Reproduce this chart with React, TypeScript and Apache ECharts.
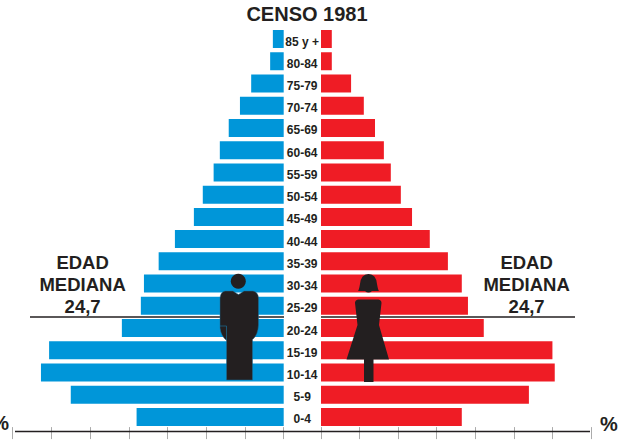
import React, { useEffect, useRef } from "react";
import * as echarts from "echarts";

const ageGroups = ["0-4","5-9","10-14","15-19","20-24","25-29","30-34","35-39","40-44","45-49","50-54","55-59","60-64","65-69","70-74","75-79","80-84","85 y +"];
const menPct = [3.8,5.5,6.27,6.06,4.18,3.69,3.61,3.23,2.81,2.32,2.09,1.81,1.65,1.42,1.13,0.84,0.35,0.28];
const womenPct = [3.65,5.39,6.06,6.0,4.22,3.81,3.65,3.29,2.82,2.36,2.07,1.81,1.63,1.40,1.11,0.78,0.28,0.28];
const titleText = "CENSO 1981";
const medianLines = ["EDAD", "MEDIANA", "24,7"];
const medianCentres = [262, 284.5, 306.5];

const BLUE = "#0096D9";
const RED = "#EF1C25";
const DARK = "#231F20";
const FONT = '"Liberation Sans", Arial, sans-serif';

echarts.graphic.registerShape("manBody", echarts.graphic.extendPath(
  "M225 291 L233 291 Q236 293 238.5 294.5 Q241 293 244 291 L253 291 Q258 292 258.5 298 L258.5 325 Q258 335 252.5 339.5 L252.5 380 L226.5 380 L226.5 340.5 Q221 336 220 328 L220 298 Q220.5 292 225 291 Z", {}));
echarts.graphic.registerShape("womanHair", echarts.graphic.extendPath(
  "M358 291 Q359 290 360 284 Q361 274 368.5 274 Q376 274 377 284 Q378 290 379 291 L372 291 Q368.5 294 365 291 Z", {}));
echarts.graphic.registerShape("womanBody", echarts.graphic.extendPath(
  "M358 299.5 L378.5 299.5 Q381.5 300 381.5 303 L379 325 L389 359.5 L373.5 359.5 L373.5 382 L364 382 L364 359.5 L346.5 359.5 L357.5 325 L355 303 Q355 300 358 299.5 Z", {}));

const medianTexts = (cx: number) => medianLines.map((t, i) => ({
  type: "text", z: 10, x: cx, y: medianCentres[i],
  style: { text: t, fill: DARK, font: `bold 18.5px ${FONT}`, align: "center", verticalAlign: "middle" },
}));

const xCommon = {
  type: "value", min: 0, max: 7, interval: 1, offset: -1,
  axisLabel: { show: false }, axisLine: { show: false }, splitLine: { show: false },
  axisTick: { show: true, length: 12, lineStyle: { color: "#ABABAB", width: 1 } },
};
const yCommon = {
  type: "category", data: ageGroups,
  axisLine: { show: false }, axisTick: { show: false }, splitLine: { show: false },
};

export default function App() {
  const ref = useRef<HTMLDivElement>(null);
  useEffect(() => {
    const chart = echarts.init(ref.current!, null, { renderer: "svg" });
    chart.setOption({
      animation: false,
      backgroundColor: "#fff",
      grid: [
        { left: 12.7, width: 271, top: 27.9, height: 400.2 },
        { left: 321, width: 270, top: 27.9, height: 400.2 },
      ],
      xAxis: [
        { ...xCommon, gridIndex: 0, inverse: true },
        { ...xCommon, gridIndex: 1 },
      ],
      yAxis: [
        {
          ...yCommon, gridIndex: 0, position: "right",
          axisLine: { show: false, onZero: false },
          axisLabel: {
            show: true, margin: 18.5, align: "center", interval: 0, verticalAlign: "top", lineHeight: 5,
            color: DARK, fontFamily: FONT, fontWeight: "bold", fontSize: 12,
          },
        },
        { ...yCommon, gridIndex: 1, axisLabel: { show: false } },
      ],
      series: [
        { type: "bar", xAxisIndex: 0, yAxisIndex: 0, data: menPct, barWidth: 18, itemStyle: { color: BLUE } },
        { type: "bar", xAxisIndex: 1, yAxisIndex: 1, data: womenPct, barWidth: 18, itemStyle: { color: RED } },
      ],
      graphic: [
        { type: "text", z: 10, x: 307, y: 14, style: { text: titleText, fill: DARK, font: `bold 20px ${FONT}`, align: "center", verticalAlign: "middle" } },
        ...medianTexts(82.6),
        ...medianTexts(526.6),
        { type: "line", z: 10, shape: { x1: 30, y1: 317, x2: 284, y2: 317 }, style: { stroke: DARK, lineWidth: 1.3 } },
        { type: "line", z: 10, shape: { x1: 321, y1: 317, x2: 575, y2: 317 }, style: { stroke: DARK, lineWidth: 1.3 } },
        { type: "line", z: 10, shape: { x1: 15, y1: 431.5, x2: 590, y2: 431.5 }, style: { stroke: DARK, lineWidth: 1.6 } },
        { type: "text", z: 10, x: 9, y: 423, style: { text: "%", fill: DARK, font: `bold 20px ${FONT}`, align: "right", verticalAlign: "middle" } },
        { type: "text", z: 10, x: 600, y: 424, style: { text: "%", fill: DARK, font: `bold 20px ${FONT}`, align: "left", verticalAlign: "middle" } },
        { type: "circle", z: 11, shape: { cx: 238.3, cy: 281.3, r: 7.5 }, style: { fill: DARK } },
        { type: "manBody", z: 11, style: { fill: DARK, stroke: "#1B6E98", lineWidth: 0.5 } },
        { type: "polyline", z: 12, shape: { points: [[220, 326], [226.5, 326], [226.5, 340]] }, style: { fill: "none", stroke: "#1B6E98", lineWidth: 0.7 } },
        { type: "womanHair", z: 11, style: { fill: DARK } },
        { type: "womanBody", z: 11, style: { fill: DARK } },
      ],
    });
    return () => chart.dispose();
  }, []);
  return <div ref={ref} style={{ position: "fixed", left: 0, top: 0, width: 619, height: 440 }} />;
}
